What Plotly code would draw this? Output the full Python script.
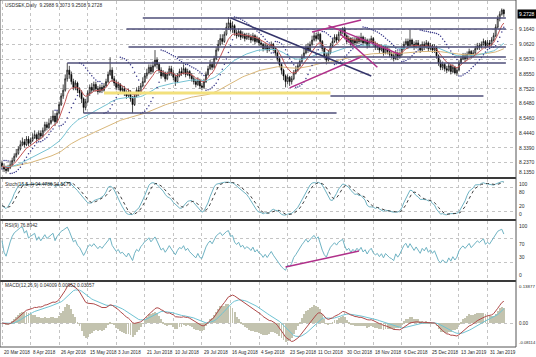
import plotly.graph_objects as go
import numpy as np

# ---------------- data ----------------
closes = [8.21, 8.19, 8.18, 8.20, 8.22, 8.25, 8.28, 8.30, 8.33, 8.36,
          8.38, 8.36, 8.40, 8.37, 8.39, 8.41, 8.43, 8.40, 8.44, 8.42,
          8.46, 8.50, 8.48, 8.51, 8.53, 8.56, 8.52, 8.58, 8.64, 8.70,
          8.74, 8.82, 8.88, 8.85, 8.80, 8.76, 8.79, 8.74, 8.72, 8.68,
          8.62, 8.66, 8.72, 8.76, 8.74, 8.78, 8.75, 8.73, 8.76, 8.74,
          8.77, 8.80, 8.85, 8.88, 8.82, 8.79, 8.76, 8.78, 8.74, 8.75,
          8.72, 8.70, 8.73, 8.68, 8.64, 8.70, 8.74, 8.72, 8.77, 8.80,
          8.84, 8.86, 8.90, 8.87, 8.91, 8.95, 8.92, 8.88, 8.84, 8.86,
          8.82, 8.85, 8.89, 8.86, 8.83, 8.80, 8.84, 8.87, 8.86, 8.89,
          8.85, 8.87, 8.84, 8.82, 8.80, 8.78, 8.81, 8.77, 8.76, 8.80,
          8.85, 8.89, 8.92, 8.90, 8.96, 9.02, 9.06, 9.10, 9.08, 9.13,
          9.18, 9.21, 9.17, 9.19, 9.14, 9.12, 9.15, 9.11, 9.13, 9.10,
          9.12, 9.11, 9.09, 9.12, 9.08, 9.10, 9.07, 9.06, 9.03, 9.05,
          9.02, 9.04, 9.06, 9.03, 9.00, 8.96, 8.92, 8.88, 8.84, 8.80,
          8.83, 8.80, 8.82, 8.86, 8.88, 8.91, 8.94, 8.97, 9.00, 9.04,
          9.02, 9.06, 9.09, 9.12, 9.10, 9.13, 9.08, 9.03, 8.98, 8.95,
          9.00, 9.05, 9.08, 9.11, 9.09, 9.13, 9.15, 9.17, 9.12, 9.08,
          9.10, 9.06, 9.09, 9.07, 9.10, 9.08, 9.11, 9.07, 9.09, 9.05,
          9.08, 9.10, 9.06, 9.04, 9.05, 9.02, 9.04, 9.00, 9.03, 9.01,
          8.99, 8.98, 8.96, 9.00, 8.97, 8.99, 9.03, 9.06, 9.08, 9.05,
          9.09, 9.06, 9.04, 9.07, 9.05, 9.02, 9.06, 9.04, 9.07, 9.03,
          9.05, 9.02, 9.04, 8.98, 8.93, 8.90, 8.92, 8.89, 8.88, 8.91,
          8.87, 8.90, 8.86, 8.88, 8.93, 8.96, 8.98, 8.96, 8.99, 9.01,
          8.98, 9.00, 9.03, 9.05, 9.04, 9.06, 9.08, 9.05, 9.07, 9.06,
          9.09, 9.12, 9.18, 9.24, 9.27, 9.2988, 9.2728]
highs = [8.25, 8.23, 8.21, 8.22, 8.25, 8.27, 8.30, 8.33, 8.35, 8.39,
         8.41, 8.40, 8.42, 8.42, 8.41, 8.44, 8.46, 8.44, 8.46, 8.46,
         8.48, 8.52, 8.52, 8.54, 8.56, 8.60, 8.58, 8.60, 8.66, 8.72,
         8.78, 8.85, 8.93, 8.91, 8.87, 8.82, 8.81, 8.80, 8.76, 8.74,
         8.69, 8.68, 8.74, 8.78, 8.79, 8.80, 8.80, 8.77, 8.78, 8.78,
         8.79, 8.82, 8.87, 8.97, 8.90, 8.84, 8.81, 8.80, 8.79, 8.77,
         8.77, 8.74, 8.75, 8.74, 8.70, 8.72, 8.76, 8.77, 8.79, 8.83,
         8.86, 8.89, 8.92, 8.92, 8.94, 9.02, 8.97, 8.93, 8.90, 8.88,
         8.87, 8.87, 8.91, 8.91, 8.88, 8.85, 8.86, 8.89, 8.90, 8.92,
         8.90, 8.89, 8.88, 8.86, 8.84, 8.82, 8.83, 8.82, 8.79, 8.82,
         8.87, 8.91, 8.95, 8.94, 8.98, 9.04, 9.09, 9.13, 9.13, 9.15,
         9.21, 9.25, 9.23, 9.22, 9.20, 9.16, 9.17, 9.16, 9.15, 9.14,
         9.14, 9.14, 9.13, 9.14, 9.13, 9.12, 9.11, 9.09, 9.07, 9.07,
         9.06, 9.06, 9.08, 9.07, 9.04, 9.01, 8.97, 8.93, 8.89, 8.85,
         8.85, 8.84, 8.84, 8.88, 8.91, 8.93, 8.96, 8.99, 9.03, 9.06,
         9.07, 9.08, 9.12, 9.15, 9.14, 9.15, 9.14, 9.09, 9.04, 9.00,
         9.02, 9.07, 9.10, 9.13, 9.13, 9.15, 9.17, 9.18, 9.18, 9.13,
         9.12, 9.11, 9.11, 9.11, 9.12, 9.12, 9.14, 9.12, 9.11, 9.10,
         9.10, 9.12, 9.11, 9.08, 9.07, 9.06, 9.06, 9.05, 9.05, 9.04,
         9.03, 9.01, 9.00, 9.02, 9.01, 9.01, 9.05, 9.08, 9.10, 9.10,
         9.16, 9.10, 9.08, 9.09, 9.09, 9.06, 9.08, 9.08, 9.09, 9.08,
         9.07, 9.06, 9.06, 9.05, 8.99, 8.95, 8.94, 8.93, 8.91, 8.93,
         8.92, 8.92, 8.91, 8.90, 8.95, 8.98, 9.00, 9.00, 9.01, 9.03,
         9.02, 9.02, 9.05, 9.07, 9.07, 9.08, 9.10, 9.09, 9.09, 9.09,
         9.11, 9.14, 9.20, 9.26, 9.29, 9.31, 9.3073]
lows = [8.19, 8.17, 8.16, 8.17, 8.19, 8.21, 8.24, 8.27, 8.29, 8.32,
        8.35, 8.34, 8.35, 8.35, 8.36, 8.38, 8.40, 8.38, 8.39, 8.40,
        8.41, 8.45, 8.46, 8.47, 8.50, 8.52, 8.49, 8.51, 8.57, 8.63,
        8.68, 8.73, 8.80, 8.82, 8.78, 8.74, 8.74, 8.72, 8.69, 8.65,
        8.58, 8.60, 8.65, 8.70, 8.72, 8.73, 8.73, 8.71, 8.72, 8.72,
        8.73, 8.76, 8.79, 8.84, 8.80, 8.77, 8.74, 8.74, 8.72, 8.72,
        8.70, 8.68, 8.69, 8.66, 8.58, 8.63, 8.69, 8.70, 8.71, 8.76,
        8.79, 8.82, 8.85, 8.85, 8.86, 8.90, 8.89, 8.86, 8.82, 8.83,
        8.80, 8.81, 8.84, 8.84, 8.81, 8.77, 8.79, 8.83, 8.84, 8.85,
        8.83, 8.84, 8.82, 8.80, 8.78, 8.76, 8.77, 8.75, 8.74, 8.75,
        8.79, 8.84, 8.88, 8.88, 8.89, 8.95, 9.01, 9.05, 9.06, 9.07,
        9.12, 9.16, 9.15, 9.14, 9.12, 9.10, 9.11, 9.09, 9.10, 9.08,
        9.09, 9.09, 9.07, 9.08, 9.06, 9.07, 9.05, 9.04, 9.01, 9.02,
        9.00, 9.01, 9.03, 9.01, 8.98, 8.94, 8.90, 8.85, 8.81, 8.76,
        8.78, 8.77, 8.78, 8.81, 8.85, 8.87, 8.90, 8.93, 8.96, 8.99,
        9.00, 9.01, 9.05, 9.08, 9.08, 9.09, 9.06, 9.01, 8.96, 8.92,
        8.94, 8.99, 9.04, 9.07, 9.07, 9.08, 9.12, 9.13, 9.10, 9.06,
        9.07, 9.04, 9.05, 9.05, 9.06, 9.06, 9.07, 9.05, 9.06, 9.03,
        9.04, 9.07, 9.04, 9.02, 9.02, 9.00, 9.01, 8.98, 8.99, 8.99,
        8.97, 8.96, 8.94, 8.95, 8.95, 8.96, 8.98, 9.02, 9.05, 9.03,
        9.04, 9.04, 9.02, 9.03, 9.03, 9.00, 9.01, 9.02, 9.03, 9.01,
        9.02, 9.00, 9.00, 8.96, 8.91, 8.88, 8.88, 8.87, 8.86, 8.87,
        8.85, 8.86, 8.85, 8.84, 8.87, 8.92, 8.95, 8.94, 8.95, 8.98,
        8.96, 8.97, 8.99, 9.02, 9.02, 9.03, 9.05, 9.03, 9.04, 9.04,
        9.05, 9.08, 9.11, 9.17, 9.22, 9.26, 9.2508]
first_open = 8.23
opens = [first_open] + closes[:-1]

date_tick_bars = list(range(0, 239, 14))
date_tick_labels = ["20 Mar 2018", "8 Apr 2018", "26 Apr 2018", "15 May 2018", "3 Jun 2018",
                    "21 Jun 2018", "10 Jul 2018", "29 Jul 2018", "16 Aug 2018", "4 Sep 2018",
                    "23 Sep 2018", "11 Oct 2018", "30 Oct 2018", "18 Nov 2018", "6 Dec 2018",
                    "25 Dec 2018", "13 Jan 2019", "31 Jan 2019"]
price_ticks = [9.1640, 9.0620, 8.9570, 8.8550, 8.7520, 8.6480, 8.5460, 8.4440, 8.3390, 8.2370, 8.1350]
last_price = 9.2728

# horizontal levels drawn on the chart: price, first bar, last bar
level_prices = [9.244, 9.167, 9.042, 8.972, 8.930, 8.700, 8.581]
level_from = [69, 61, 62, 86, 32, 161, 40]
level_to = [247, 247, 247, 247, 247, 236, 164]
yellow_level = [8.721, 50, 161]
# trend lines: (bar0, price0, bar1, price1)
navy_trend = [112, 9.244, 181, 8.839]
pink_trends = [[141, 8.756, 176, 8.972], [152, 9.146, 176, 9.23],
               [160, 9.19, 195, 8.99], [166, 9.13, 184, 8.90]]
rsi_trend = [139, 22.0, 175, 49.0]

n = len(closes)
x = np.arange(n)
c = np.array(closes); h = np.array(highs); l = np.array(lows)


def ema(v, p):
    out = np.empty_like(v); a = 2 / (p + 1); out[0] = v[0]
    for i in range(1, len(v)):
        out[i] = a * v[i] + (1 - a) * out[i - 1]
    return out


def sma(v, p):
    out = np.full(len(v), np.nan)
    for i in range(len(v)):
        lo = max(0, i - p + 1)
        out[i] = np.mean(v[lo:i + 1])
    return out


def psar(hh, ll, step=0.02, mx=0.2):
    s = np.empty(len(hh)); bull = True; af = step; ep = hh[0]; s[0] = ll[0]
    for i in range(1, len(hh)):
        v = s[i - 1] + af * (ep - s[i - 1])
        if bull:
            v = min(v, ll[i - 1], ll[max(i - 2, 0)])
            if ll[i] < v:
                bull = False; v = ep; ep = ll[i]; af = step
            elif hh[i] > ep:
                ep = hh[i]; af = min(af + step, mx)
        else:
            v = max(v, hh[i - 1], hh[max(i - 2, 0)])
            if hh[i] > v:
                bull = True; v = ep; ep = hh[i]; af = step
            elif ll[i] < ep:
                ep = ll[i]; af = min(af + step, mx)
        s[i] = v
    return s


ma_fast = ema(c, 8)
ma_mid = ema(c, 40)
ma_slow = ema(c, 90)
sar = psar(h, l)

# Stochastic (15,5,4)
num = np.zeros(n); den = np.zeros(n)
for i in range(n):
    lo = max(0, i - 14)
    num[i] = c[i] - l[lo:i + 1].min(); den[i] = h[lo:i + 1].max() - l[lo:i + 1].min()
stk = np.array([100 * num[max(0, i - 4):i + 1].sum() / max(den[max(0, i - 4):i + 1].sum(), 1e-9) for i in range(n)])
std = sma(stk, 4)

# RSI(9)
d = np.diff(c, prepend=c[0])
up = np.where(d > 0, d, 0.0); dn = np.where(d < 0, -d, 0.0)
au = np.zeros(n); ad = np.zeros(n); au[0] = 0.004; ad[0] = 0.002
for i in range(1, n):
    au[i] = (au[i - 1] * 8 + up[i]) / 9; ad[i] = (ad[i - 1] * 8 + dn[i]) / 9
rsi = 100 - 100 / (1 + au / np.maximum(ad, 1e-9))

# MACD(12,26,9)
macd = ema(c, 12) - ema(c, 26)
sig = ema(macd, 9)
hist = 2.0 * (macd - sig)

# ---------------- figure ----------------
H = 347.0
def dom(top, bot):
    return [(H - bot) / H, (H - top) / H]

fig = go.Figure()
FONT = "Liberation Sans"
TXT = "#2a2a2a"
GRID = "#c4c4c4"

fig.add_trace(go.Candlestick(x=x, open=opens, high=highs, low=lows, close=closes,
                             increasing=dict(line=dict(color="black", width=0.7), fillcolor="white"),
                             decreasing=dict(line=dict(color="black", width=0.7), fillcolor="black"),
                             whiskerwidth=0, xaxis="x", yaxis="y", showlegend=False, hoverinfo="skip"))
fig.add_trace(go.Scatter(x=x, y=ma_slow, mode="lines", line=dict(color="#d9b77a", width=1), xaxis="x", yaxis="y"))
fig.add_trace(go.Scatter(x=x, y=ma_mid, mode="lines", line=dict(color="#76c3d3", width=1), xaxis="x", yaxis="y"))
fig.add_trace(go.Scatter(x=x, y=ma_fast, mode="lines", line=dict(color="#c25555", width=1), xaxis="x", yaxis="y"))
fig.add_trace(go.Scatter(x=x, y=sar, mode="markers", marker=dict(color="#3a3a8a", size=1.5), xaxis="x", yaxis="y"))

fig.add_trace(go.Scatter(x=x, y=stk, mode="lines", line=dict(color="#6fb3c3", width=1), xaxis="x2", yaxis="y2"))
fig.add_trace(go.Scatter(x=x, y=std, mode="lines", line=dict(color="#404040", width=1, dash="dot"), xaxis="x2", yaxis="y2"))
fig.add_trace(go.Scatter(x=x, y=rsi, mode="lines", line=dict(color="#6fb3c3", width=1), xaxis="x3", yaxis="y3"))
fig.add_trace(go.Scatter(x=[rsi_trend[0], rsi_trend[2]], y=[rsi_trend[1], rsi_trend[3]], mode="lines",
                         line=dict(color="#b0308a", width=1.5), xaxis="x3", yaxis="y3"))
fig.add_trace(go.Bar(x=x, y=hist, marker=dict(color="#c3c3af", line=dict(width=0)), width=0.45, xaxis="x4", yaxis="y4"))
fig.add_trace(go.Scatter(x=x, y=sig, mode="lines", line=dict(color="#6fc3d3", width=1), xaxis="x4", yaxis="y4"))
fig.add_trace(go.Scatter(x=x, y=macd, mode="lines", line=dict(color="#b04a4a", width=1), xaxis="x4", yaxis="y4"))

xr = [-0.98, 251.96]
xax = dict(range=xr, showticklabels=False, tickvals=date_tick_bars, showgrid=True, gridcolor=GRID,
           griddash="dot", gridwidth=1, zeroline=False, showline=False, fixedrange=True)
yax = dict(side="right", showgrid=True, gridcolor=GRID, griddash="dot", zeroline=False, showline=False,
           showticklabels=False, ticks="")

shapes = []
for p, a, b in zip(level_prices, level_from, level_to):
    shapes.append(dict(type="line", xref="x", yref="y", x0=a, x1=b, y0=p, y1=p, line=dict(color="#4e4e78", width=1.5)))
shapes.append(dict(type="line", xref="x", yref="y", x0=yellow_level[1], x1=yellow_level[2], y0=yellow_level[0],
                   y1=yellow_level[0], line=dict(color="#f2e07c", width=3)))
shapes.append(dict(type="line", xref="x", yref="y", x0=navy_trend[0], y0=navy_trend[1], x1=navy_trend[2],
                   y1=navy_trend[3], line=dict(color="#35356a", width=1.5)))
for t in pink_trends:
    shapes.append(dict(type="line", xref="x", yref="y", x0=t[0], y0=t[1], x1=t[2], y1=t[3],
                       line=dict(color="#b0308a", width=1.5)))
for top, bot in [(177, 179), (219, 221), (280, 282)]:
    shapes.append(dict(type="rect", xref="paper", yref="paper", x0=0, x1=1, y0=(H - bot) / H, y1=(H - top) / H,
                       fillcolor="#3a3a3a", line=dict(width=0), layer="above"))
shapes.append(dict(type="rect", xref="paper", yref="paper", x0=0, x1=1, y0=0, y1=1, line=dict(color="#555", width=1)))

annotations = []
def label(text, yref, yval, anchor, size=5):
    annotations.append(dict(x=1, y=yval, xref="paper", yref=yref, text=text, showarrow=False, xanchor="left",
                            yanchor=anchor, xshift=1, font=dict(family=FONT, size=size, color=TXT)))

for v in price_ticks:
    label("%.4f" % v, "y", v, "bottom" if v == price_ticks[-1] else "middle")
label("100", "y2", 100, "top"); label("80", "y2", 80, "top"); label("20", "y2", 20, "bottom"); label("0", "y2", 0, "bottom")
label("100", "y3", 100, "top"); label("70", "y3", 70, "top"); label("30", "y3", 30, "bottom"); label("0", "y3", 0, "bottom")
label("0.13877", "y4", 0.13877, "top", 4.4); label("0.00", "y4", 0, "middle", 4.6)
label("-0.08114", "y4", -0.08114, "bottom", 4.2)

for b, t in zip(date_tick_bars, date_tick_labels):
    annotations.append(dict(x=b, y=0, xref="x4", yref="paper", text=t, showarrow=False, xanchor="left",
                            yanchor="top", yshift=-1, font=dict(family=FONT, size=4.6, color=TXT)))
annotations.append(dict(x=1, y=last_price, xref="paper", yref="y", text="9.2728", showarrow=False, xanchor="left",
                        xshift=1, bgcolor="black", font=dict(family=FONT, size=5, color="white"), borderpad=1))
for txt, ypix in [("USDSEK,Daily  9.2988 9.3073 9.2508 9.2728", 6),
                  ("Stoch(15,5,4) 94.4786 94.5179", 184),
                  ("RSI(9) 76.8942", 225),
                  ("MACD(12,26,9) 0.04009 0.00952 0.03057", 285)]:
    annotations.append(dict(x=0.006, y=(H - ypix) / H, xref="paper", yref="paper", text=txt, showarrow=False,
                            xanchor="left", yanchor="middle", font=dict(family=FONT, size=4.8, color=TXT)))

fig.update_layout(
    width=536, height=357, margin=dict(l=0, r=20, t=0, b=10),
    paper_bgcolor="white", plot_bgcolor="white", showlegend=False, bargap=0,
    xaxis=dict(xax, domain=[0, 1], anchor="y", rangeslider=dict(visible=False)),
    xaxis2=dict(xax, domain=[0, 1], anchor="y2", matches="x"),
    xaxis3=dict(xax, domain=[0, 1], anchor="y3", matches="x"),
    xaxis4=dict(xax, domain=[0, 1], anchor="y4", matches="x"),
    yaxis=dict(yax, domain=dom(1, 177), range=[8.135, 9.362], tickvals=price_ticks),
    yaxis2=dict(yax, domain=dom(179, 219), range=[0, 100], tickvals=[20, 80]),
    yaxis3=dict(yax, domain=dom(221, 280), range=[0, 100], tickvals=[30, 70]),
    yaxis4=dict(yax, domain=dom(282, 347), range=[-0.08114, 0.13877], tickvals=[0]),
    shapes=shapes, annotations=annotations,
)
fig.write_html("out.html")
